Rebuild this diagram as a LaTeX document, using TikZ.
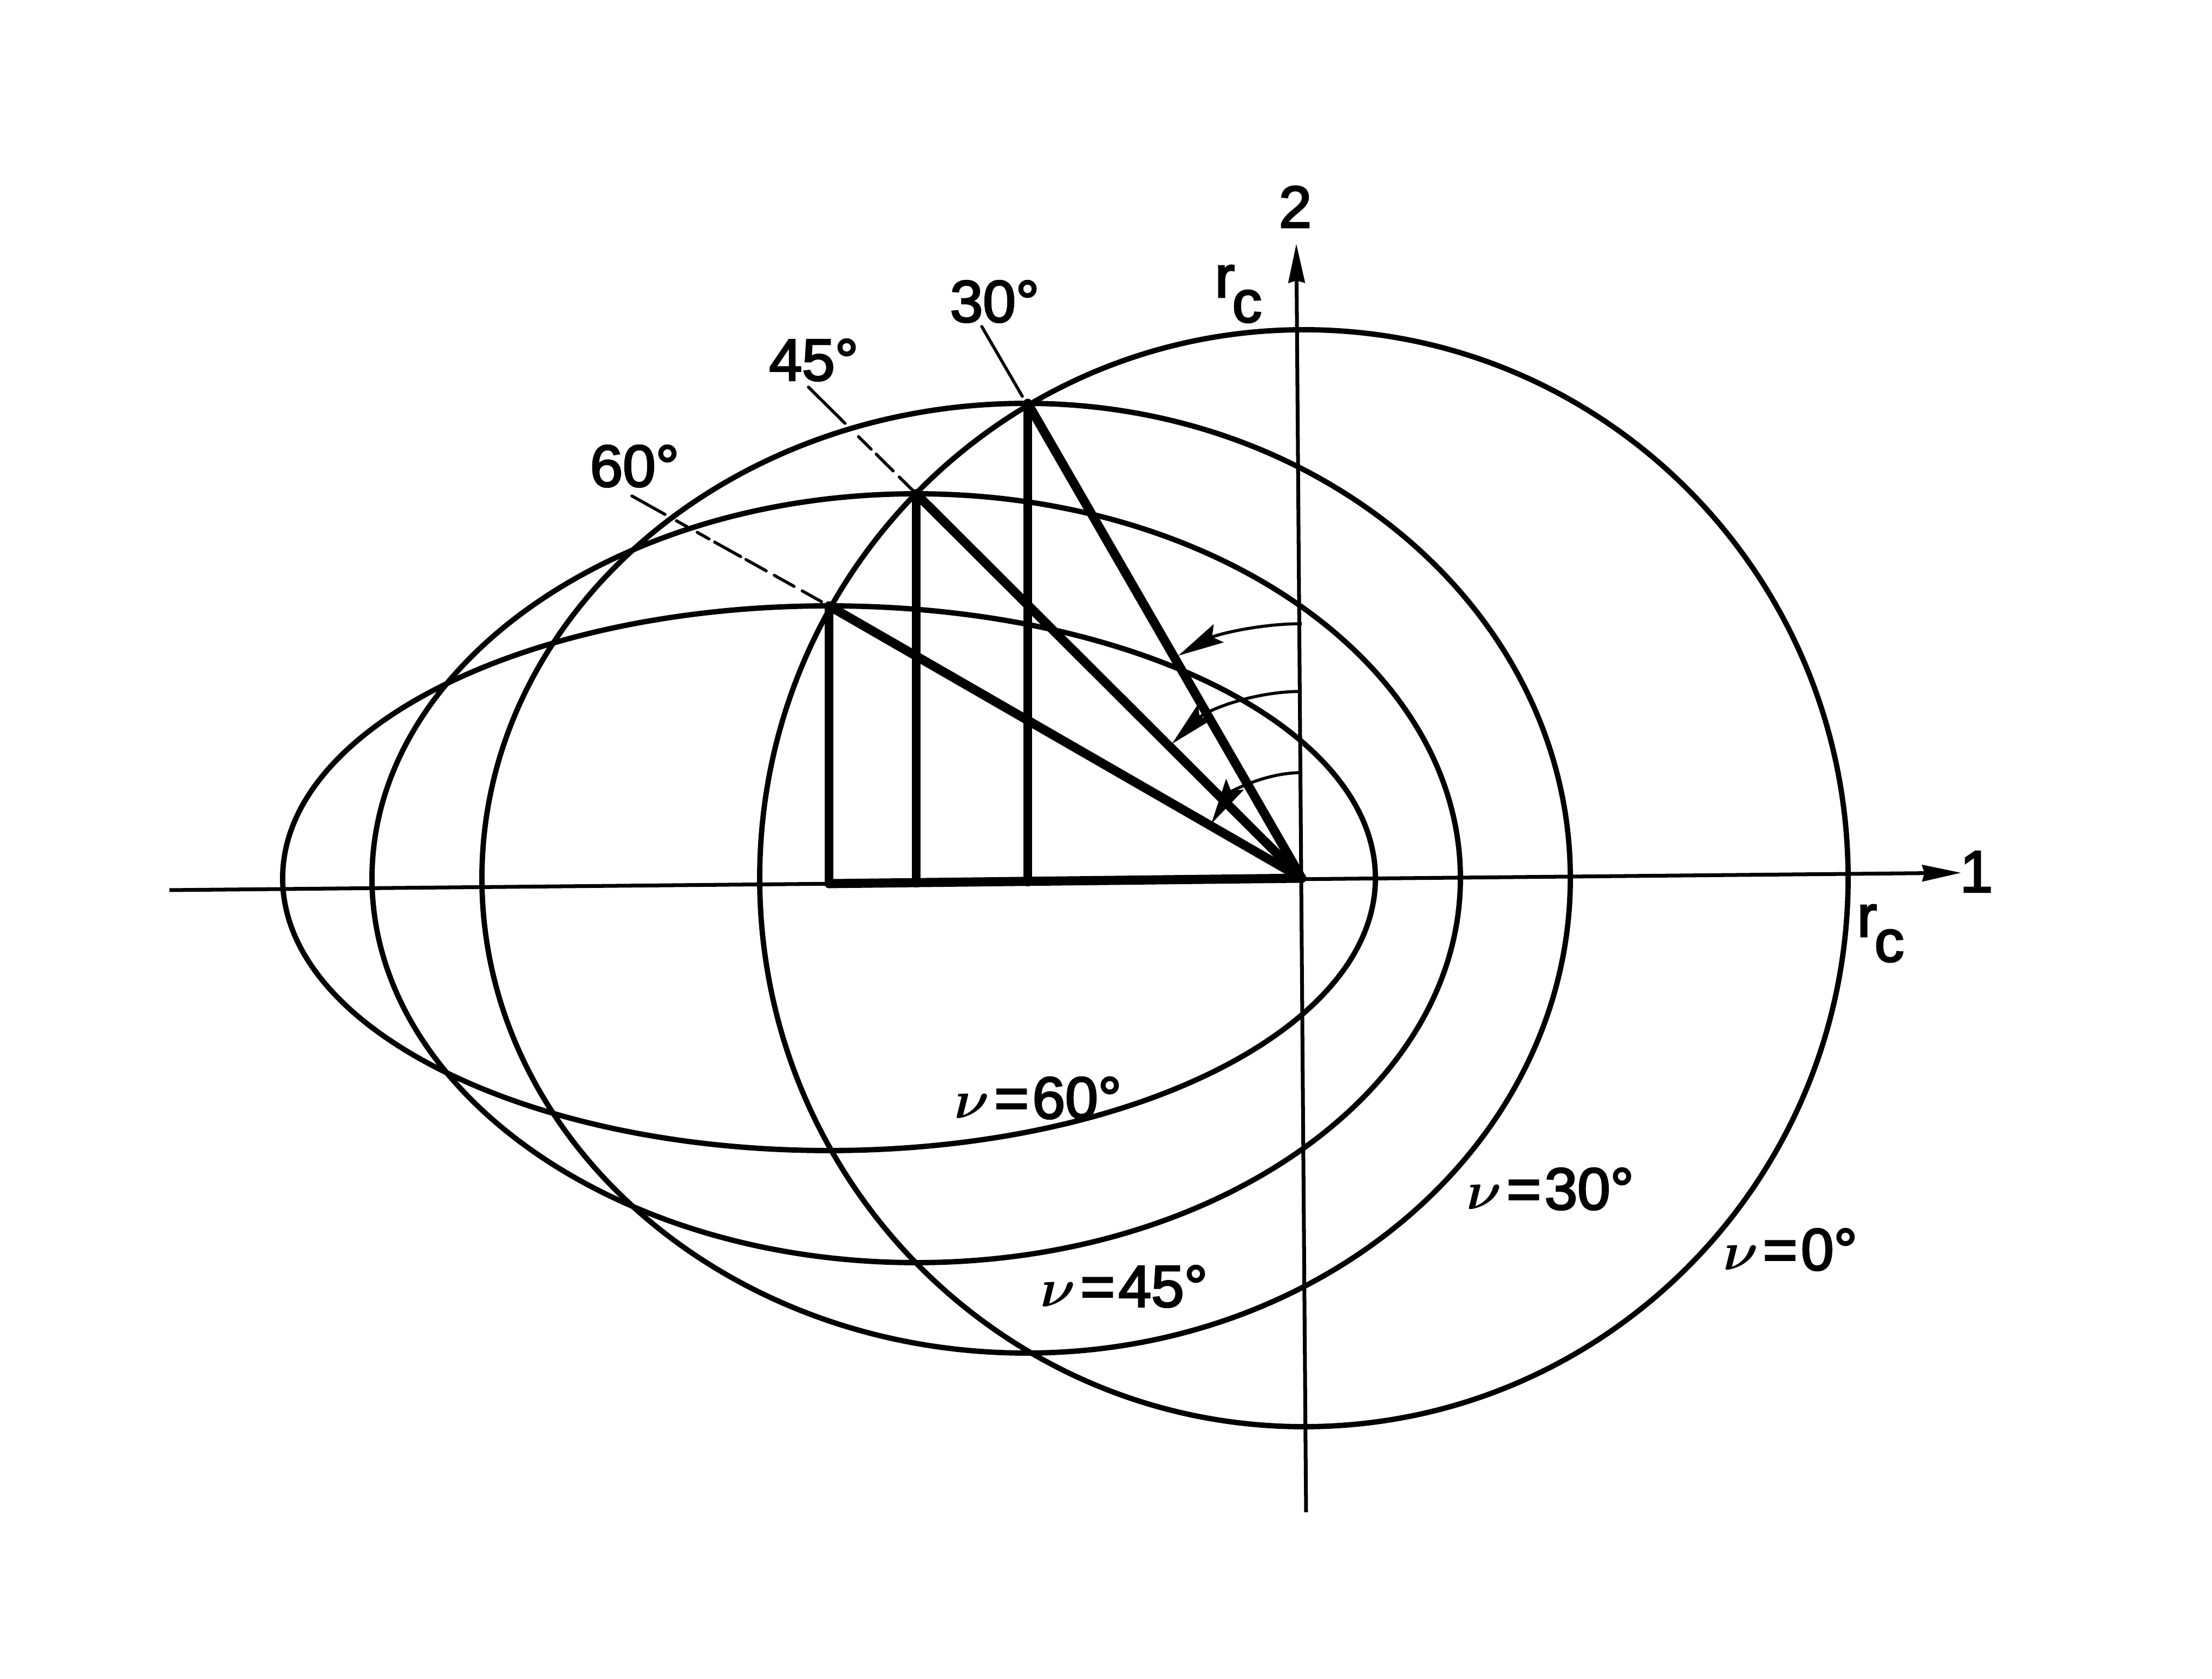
\documentclass[tikz,border=0pt]{standalone}
\usepackage{fontspec}
\setmainfont{Liberation Sans}[BoldFont={Liberation Sans}, BoldFeatures={FakeBold=3}]
\usetikzlibrary{arrows.meta}

\begin{document}
\boldmath
\begin{tikzpicture}[
    orbit/.style={line width=2.8pt},
    axisline/.style={line width=2pt, -{Stealth[length=7.2mm,width=3mm,inset=0.4mm]}},
    heavy/.style={line width=4.8pt, line cap=round},
    leader/.style={line width=1.6pt, line cap=round},
    sweep/.style={line width=1.6pt, -{Stealth[length=8.5mm,width=3.8mm,inset=1.4mm]}},
    lbl/.style={inner sep=0pt, font=\fontsize{31}{36}\selectfont\bfseries}
  ]
  \useasboundingbox (-24.04,-14.79) rectangle (16.81,16.22);

  \coordinate (O) at (0,0);
  \coordinate (C0) at (0.04,0);
  \coordinate (C30) at (-5.09,0);
  \coordinate (C45) at (-7.12,0);
  \coordinate (C60) at (-8.73,0);

  \draw[orbit] (C0) circle [x radius=10.05, y radius=10.13];
  \draw[orbit] (C30) ellipse [x radius=10.05, y radius=8.77];
  \draw[orbit] (C45) ellipse [x radius=10.05, y radius=7.10];
  \draw[orbit] (C60) ellipse [x radius=10.09, y radius=5.03];

  % axes
  \coordinate (X0) at (-20.91,-0.22);
  \coordinate (X1) at (12.18,0.10);
  \coordinate (Y0) at (0.08,-11.71);
  \coordinate (Y1) at (-0.10,11.72);
  \draw[axisline] (X0) -- (X1);
  \draw[axisline] (Y0) -- (Y1);

  \node[lbl] (ax1) at (12.46,0.12) {1};
  \node[lbl] (ax2) at (-0.12,12.40) {2};
  \node[lbl] (rc1) at (10.69,-1.02) {r\kern-0.04em\raisebox{-0.8ex}{c}};
  \node[lbl] (rc2) at (-1.17,10.79) {r\kern-0.04em\raisebox{-0.8ex}{c}};

  % construction of the three points
  \coordinate (P30) at (-5.06,8.77);
  \coordinate (P45) at (-7.12,7.10);
  \coordinate (P60) at (-8.73,5.03);
  \coordinate (F30) at (-5.06,-0.067);
  \coordinate (F45) at (-7.12,-0.087);
  \coordinate (F60) at (-8.73,-0.10);

  \draw[heavy] (F60) -- (O);
  \draw[heavy] (F30) -- (P30);
  \draw[heavy] (P30) -- (O);
  \draw[heavy] (F45) -- (P45);
  \draw[heavy] (P45) -- (O);
  \draw[heavy] (F60) -- (P60);
  \draw[heavy] (P60) -- (O);

  % leaders
  \coordinate (T30) at (-5.91,10.19);
  \coordinate (B30) at (-5.16,8.90);
  \coordinate (T45) at (-9.11,9.07);
  \coordinate (T60) at (-12.37,7.06);
  \draw[leader] (T30) -- (B30);
  \draw[leader, dash pattern=on 9.5mm off 3.5mm on 3.3mm off 1.3mm on 4.4mm off 1.6mm on 3.8mm off 10mm] (T45) -- (P45);
  \draw[leader, dash pattern=on 7mm off 2.4mm on 2.3mm off 2.1mm on 2.5mm off 1.2mm on 5.5mm off 1.1mm on 4.3mm off 1.7mm on 4.2mm off 1.7mm on 4.1mm off 10mm] (T60) -- (P60);

  \node[lbl] (deg30) at (-5.67,10.65) {30°};
  \node[lbl] (deg45) at (-9.01,9.57) {45°};
  \node[lbl] (deg60) at (-12.32,7.61) {60°};

  % angle arrows
  \coordinate (A30) at (0,4.70);
  \coordinate (A45) at (0,3.45);
  \coordinate (A60) at (0,1.95);
  \draw[sweep] (A30) arc [start angle=90, end angle=119, radius=4.70];
  \draw[sweep] (A45) arc [start angle=90, end angle=134, radius=3.45];
  \draw[sweep] (A60) arc [start angle=90, end angle=149, radius=1.95];

  \node[lbl] (nu60) at (-4.87,-4.06) {\scalebox{1.15}{$\nu$}\kern0.08em=\kern0.06em60°};
  \node[lbl] (nu45) at (-3.28,-7.54) {\scalebox{1.15}{$\nu$}\kern0.08em=\kern0.06em45°};
  \node[lbl] (nu30) at (4.59,-5.74) {\scalebox{1.15}{$\nu$}\kern0.08em=\kern0.06em30°};
  \node[lbl] (nu0) at (9.02,-6.86) {\scalebox{1.15}{$\nu$}\kern0.08em=\kern0.06em0°};
\end{tikzpicture}
\end{document}
